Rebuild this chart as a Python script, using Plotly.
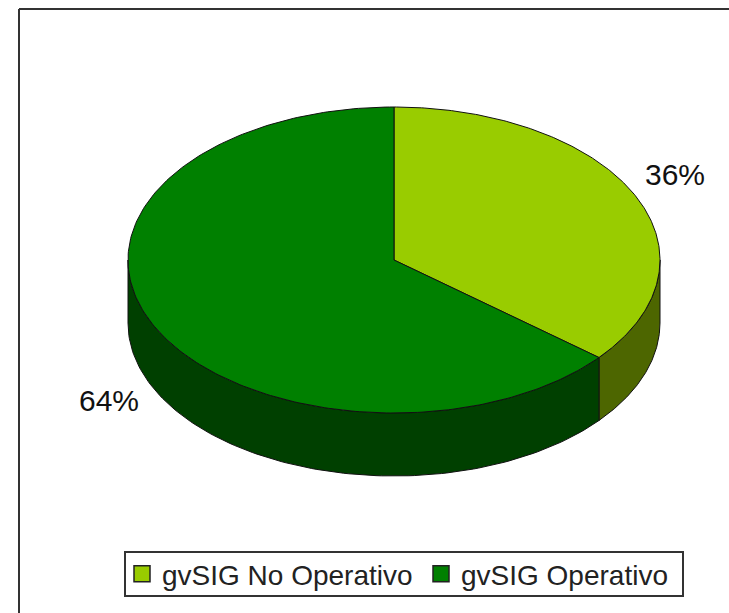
import numpy as np
import plotly.graph_objects as go

categories = ["gvSIG No Operativo", "gvSIG Operativo"]
values = [36, 64]
top_colors = ["#99CC00", "#008000"]
side_colors = ["#4D6600", "#004000"]

CX, CY, RX, RY, DEPTH = 394, 260, 266, 153, 63
total = sum(values)
W, H = 729, 613

def ell(a):
    a = np.radians(a)
    return CX + RX * np.sin(a), CY - RY * np.cos(a)

fig = go.Figure()
start = 0.0
slices = []
for v in values:
    end = start + 360 * v / total
    slices.append((start, end))
    start = end

for (a0, a1), col in zip(slices, side_colors):
    lo, hi = max(a0, 90), min(a1, 270)
    if lo >= hi:
        continue
    t = np.linspace(lo, hi, 120)
    x, y = ell(t)
    xs = np.concatenate([x, x[::-1], x[:1]])
    ys = np.concatenate([y, (y + DEPTH)[::-1], y[:1]])
    fig.add_trace(go.Scatter(x=xs, y=ys, mode="lines", fill="toself", fillcolor=col,
                             line=dict(color="#111", width=1), showlegend=False, hoverinfo="skip"))

for (a0, a1), col in zip(slices, top_colors):
    t = np.linspace(a0, a1, 240)
    x, y = ell(t)
    xs = np.concatenate([[CX], x, [CX]])
    ys = np.concatenate([[CY], y, [CY]])
    fig.add_trace(go.Scatter(x=xs, y=ys, mode="lines", fill="toself", fillcolor=col,
                             line=dict(color="#111", width=1), showlegend=False, hoverinfo="skip"))

for name, col in zip(categories, top_colors):
    fig.add_trace(go.Scatter(x=[None], y=[None], mode="markers", name=name,
                             marker=dict(symbol="square", size=16, color=col,
                                         line=dict(color="#222", width=1.5))))

FONT = "Liberation Sans, Arial, sans-serif"
fig.add_annotation(x=675, y=174, text=f"{values[0]}%", showarrow=False,
                   font=dict(size=30, color="#111", family=FONT))
fig.add_annotation(x=109, y=400, text=f"{values[1]}%", showarrow=False,
                   font=dict(size=30, color="#111", family=FONT))

# frame: only top and left edges, running off the image
fig.add_shape(type="line", x0=19, y0=9, x1=729, y1=9, line=dict(color="#333", width=2))
fig.add_shape(type="line", x0=19, y0=9, x1=19, y1=613, line=dict(color="#333", width=2))
# legend box
fig.add_shape(type="rect", x0=125, y0=552, x1=683, y1=596, line=dict(color="#333", width=2))

fig.update_layout(
    width=W, height=H,
    margin=dict(l=0, r=0, t=0, b=0),
    paper_bgcolor="white", plot_bgcolor="white",
    xaxis=dict(range=[0, W], visible=False, fixedrange=True),
    yaxis=dict(range=[H, 0], visible=False, fixedrange=True),
    legend=dict(orientation="h", x=122 / W, y=1 - 574 / H, xanchor="left", yanchor="middle",
                borderwidth=0, bgcolor="rgba(0,0,0,0)",
                font=dict(size=28, color="#222", family=FONT), itemwidth=30,
                entrywidth=254, entrywidthmode="pixels", tracegroupgap=0),
    showlegend=True,
)
fig.write_html("out.html", config={"displayModeBar": False},
               post_script="document.body.style.margin='0';document.body.style.overflow='hidden';")
